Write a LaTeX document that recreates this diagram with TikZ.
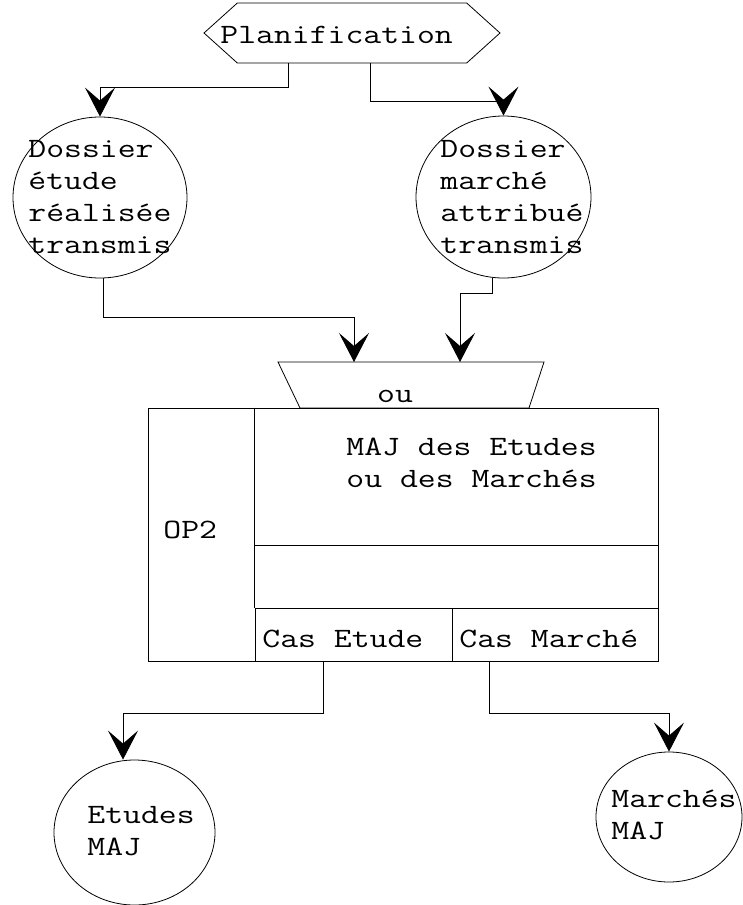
\documentclass[tikz,border=0pt]{standalone}
\usepackage{fontspec}
\setmonofont[FakeStretch=1.24]{Latin Modern Mono}
\usetikzlibrary{arrows.meta,shapes.geometric,shapes.symbols}

\tikzset{
  flux/.style={draw, -{Stealth[length=29pt,width=30pt,inset=13pt]}},
  txt/.style={font=\ttfamily\fontsize{28}{32}\selectfont, inner sep=0pt, align=left},
  etat/.style={draw, ellipse, inner sep=0pt},
  cadre/.style={draw, inner sep=0pt},
}

\begin{document}
\begin{tikzpicture}[x=1pt,y=-1pt,line width=0.8pt]
	\useasboundingbox (0,0) rectangle (742,905);
	
	% evenement declencheur
	\node[signal, signal to=west and east, signal pointer angle=84, draw, minimum width=296pt, minimum height=60pt, inner sep=0pt] (plan) at (352,33) {};
	\node[txt, anchor=base west] (planT) at (220,43) {Planification};
	
	% etats en entree
	\node[etat, minimum width=174pt, minimum height=161pt] (dEtude) at (100,197.5) {};
	\node[txt, anchor=base west] (dEtudeT) at (28,253) {Dossier\\étude\\réalisée\\transmis};
	\node[etat, minimum width=175pt, minimum height=162pt] (dMarche) at (503.5,197) {};
	\node[txt, anchor=base west] (dMarcheT) at (440,253) {Dossier\\marché\\attribué\\transmis};
	
	% synchronisation
	\coordinate (ouA) at (278,362);
	\coordinate (ouB) at (544,362);
	\draw (ouA) -- (ouB) -- (529,408) -- (300,408) -- cycle;
	\node[txt, anchor=base] (ouT) at (395,402) {ou};
	
	% operation
	\node[cadre, minimum width=510pt, minimum height=253pt] (op) at (403,534.5) {};
	\node[cadre, minimum width=197pt, minimum height=53pt] (caseE) at (353.5,634.5) {};
	\node[cadre, minimum width=206pt, minimum height=53pt] (caseM) at (555,634.5) {};
	\draw (op.north west) ++(107,0) -- (caseE.north west);
	\draw (caseE.north west) ++(0,-62) -- ++(403,0);
	\node[txt, anchor=base west] (opT) at (163,538) {OP2};
	\node[txt, anchor=base west] (majT) at (346,487) {MAJ des Etudes\\ou des Marchés};
	\node[txt, anchor=base west] (caseET) at (262,647) {Cas Etude};
	\node[txt, anchor=base west] (caseMT) at (459,647) {Cas Marché};
	
	% etats en sortie
	\node[etat, minimum width=161pt, minimum height=145pt] (eEtude) at (134.5,832.5) {};
	\node[txt, anchor=base west] (eEtudeT) at (87,855) {Etudes\\MAJ};
	\node[etat, minimum width=146pt, minimum height=130pt] (mMaj) at (669,817) {};
	\node[txt, anchor=base west] (mMajT) at (611,839) {Marchés\\MAJ};
	
	% flux
	\draw[flux] ([xshift=-64pt]plan.south) -- ++(0,24) -| (dEtude.north);
	\draw[flux] ([xshift=18pt]plan.south) -- ++(0,38) -| (dMarche.north);
	\draw[flux] ([xshift=3pt]dEtude.south) -- ++(0,39) -| ([xshift=76pt]ouA);
	\draw[flux] ([xshift=-11pt]dMarche.south) -- ++(0,15) -| ([xshift=-84pt]ouB);
	\draw[flux] ([xshift=-30.5pt]caseE.south) -- ++(0,52) -| ([xshift=-11.5pt]eEtude.north);
	\draw[flux] ([xshift=-66pt]caseM.south) -- ++(0,52) -| (mMaj.north);
\end{tikzpicture}
\end{document}
